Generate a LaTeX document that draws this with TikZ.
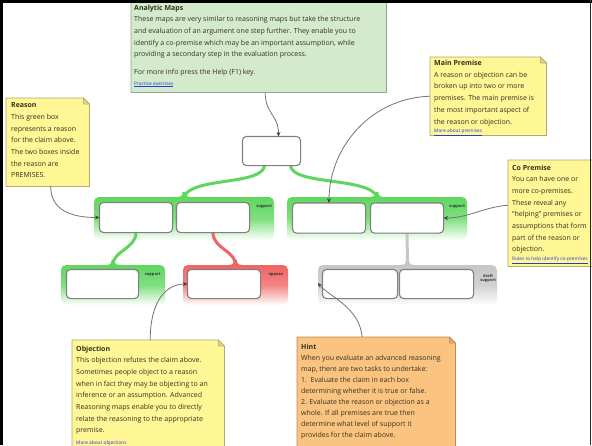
\documentclass[tikz,border=0pt]{standalone}
\usepackage{fontspec}
\setmainfont{Open Sans}
\usetikzlibrary{arrows.meta,calc}

\definecolor{notefill}{RGB}{255,246,150}
\definecolor{noteedge}{RGB}{178,168,112}
\definecolor{anafill}{RGB}{212,234,204}
\definecolor{anaedge}{RGB}{150,165,150}
\definecolor{hintfill}{RGB}{250,196,128}
\definecolor{hintedge}{RGB}{190,140,85}
\definecolor{notetxt}{RGB}{55,48,30}
\definecolor{linkblue}{RGB}{40,60,210}
\definecolor{grpgreen}{RGB}{95,215,95}
\definecolor{grpred}{RGB}{240,100,100}
\definecolor{grpgray}{RGB}{198,198,198}
\definecolor{boxedge}{RGB}{128,128,128}
\definecolor{ptr}{RGB}{115,115,115}
\definecolor{tipcol}{RGB}{64,64,64}

\newcommand\lnk[1]{{\fontsize{4.8}{6}\selectfont\color{linkblue}\underline{#1}}}

% sticky note outline with a folded top-right corner, drawn round a node
\newcommand\stickynote[3]{%
  \filldraw[fill=#2, draw=#3, line width=0.7pt]
    (#1.north west) -- ([xshift=-6pt]#1.north east) -- ([yshift=-6pt]#1.north east)
    -- (#1.south east) -- (#1.south west) -- cycle;
  \filldraw[fill=#3!45!#2, draw=#3, line width=0.5pt, line join=round]
    ([xshift=-6pt]#1.north east) -- ([xshift=-6pt,yshift=-6pt]#1.north east)
    -- ([yshift=-6pt]#1.north east) -- cycle;
}

\begin{document}
\begin{tikzpicture}[x=1pt,y=-1pt,
  premise/.style={draw=boxedge, fill=white, line width=1.1pt, rounded corners=4pt,
    inner sep=0pt, minimum height=29pt, minimum width=#1},
  premise/.default=72pt,
  group/.style={inner sep=0pt, rounded corners=5pt, top color=#1,
    bottom color=white, middle color=#1!80!white},
  notebody/.style={anchor=north west, inner sep=0pt},
  notetext/.style={anchor=north west, inner sep=0pt, align=left, text=notetxt,
    font=\fontsize{7}{11.7}\selectfont},
  tag/.style={inner sep=0pt, align=center, text=black!80,
    font=\fontsize{4}{4.6}\selectfont\bfseries},
  stem/.style={line width=3pt, draw=#1},
  pointer/.style={draw=ptr, line width=0.8pt,
    -{Stealth[length=4.5pt,width=4pt,color=tipcol]}},
  flare/.pic={\fill (-6,0) .. controls (-2.5,0) and (-1.5,-1.5) .. (-1.5,-5)
    -- (1.5,-5) .. controls (1.5,-1.5) and (2.5,0) .. (6,0) -- cycle;},
]
\useasboundingbox (0,0) rectangle (592,445);
\clip (0,0) rectangle (592,445);
\fill[white] (0,0) rectangle (592,445);

% ---- argument groups ----
\node[group=grpgreen, minimum width=180pt, minimum height=43pt] (grpL) at (184,218.5) {};
\node[group=grpgreen, minimum width=180pt, minimum height=43pt] (grpR) at (377,218.5) {};
\node[group=grpgreen, minimum width=104pt, minimum height=40pt] (grpS) at (113,285) {};
\node[group=grpred,   minimum width=105pt, minimum height=40pt] (grpO) at (235.5,285) {};
\node[group=grpgray,  minimum width=179pt, minimum height=40pt] (grpD) at (407.5,285) {};

% ---- claim and premises ----
\node[premise=57pt, minimum height=28pt] (claim) at (271.5,151) {};
\node[premise] (A) at (136,217.5) {};
\node[premise] (B) at (213,217.5) {};
\node[premise] (C) at (329,218) {};
\node[premise] (D) at (407,218) {};
\node[premise=71pt, minimum height=28pt] (E) at (102.5,284) {};
\node[premise, minimum height=28pt] (F) at (224,284) {};
\node[premise=74pt, minimum height=28pt] (G) at (360,284) {};
\node[premise=73pt, minimum height=28pt] (H) at (436.5,284) {};

% ---- thick links between claims and groups ----
\draw[stem=grpgreen] ($(claim.south)+(-7,0)$) .. controls +(-2,20) and +(8,-20) .. (grpL.north);
\draw[stem=grpgreen] ($(claim.south)+(19,0)$) .. controls +(2,20) and +(-8,-20) .. (grpR.north);
\draw[stem=grpgreen] (A.south) .. controls +(0,16) and +(0,-14) .. (grpS.north);
\draw[stem=grpred] (B.south) .. controls +(0,16) and +(0,-14) .. (grpO.north);
\draw[stem=grpgray] (D.south) -- (grpD.north);
\pic[color=grpgreen] at (grpL.north) {flare};
\pic[color=grpgreen] at (grpR.north) {flare};
\pic[color=grpgreen] at (grpS.north) {flare};
\pic[color=grpred] at (grpO.north) {flare};
\pic[color=grpgray] at (grpD.north) {flare};

% redraw boxes over the stems
\foreach \b in {claim,A,B,C,D,E,F,G,H} {
  \draw[boxedge, line width=1.1pt, rounded corners=4pt, fill=white]
    (\b.north west) rectangle (\b.south east);
}

% ---- group tags ----
\node[tag] (tL) at ($(grpL.north east)+(-10,10)$) {support};
\node[tag] (tR) at ($(grpR.north east)+(-10,10)$) {support};
\node[tag] (tS) at ($(grpS.north east)+(-12.5,10)$) {support};
\node[tag] (tO) at ($(grpO.north east)+(-12.5,10)$) {oppose};
\node[tag] (tD) at ($(grpD.north east)+(-9,13.5)$) {draft\\support};

% ---- notes ----
\node[notebody, minimum width=255pt, minimum height=100pt] (nAnalytic) at (131,-8) {};
\stickynote{nAnalytic}{anafill}{anaedge}
\node[notetext] (tAnalytic) at (134,4.5) {\textbf{Analytic Maps}\\
These maps are very similar to reasoning maps but take the structure\\
and evaluation of an argument one step further. They enable you to\\
identify a co-premise which may be an important assumption, while\\
providing a secondary step in the evaluation process.\\[6pt]
For more info press the Help (F1) key.\\[-1pt]
\lnk{Practice exercises}};

\node[notebody, minimum width=83pt, minimum height=88pt] (nReason) at (6,98) {};
\stickynote{nReason}{notefill}{noteedge}
\node[notetext] (tReason) at (11,102.5) {\textbf{Reason}\\
This green box\\represents a reason\\for the claim above.\\The two boxes inside\\
the reason are\\PREMISES.};

\node[notebody, minimum width=116pt, minimum height=78pt] (nMain) at (430,57) {};
\stickynote{nMain}{notefill}{noteedge}
\node[notetext] (tMain) at (434,60) {\textbf{Main Premise}\\
A reason or objection can be\\broken up into two or more\\premises. The main premise is\\
the most important aspect of\\the reason or objection.\\[-3.5pt]
\lnk{More about premises}};

\node[notebody, minimum width=92pt, minimum height=106pt] (nCo) at (508,160) {};
\stickynote{nCo}{notefill}{noteedge}
\node[notetext] (tCo) at (512,164.5) {\textbf{Co Premise}\\
You can have one or\\more co-premises.\\These reveal any\\“helping” premises or\\
assumptions that form\\part of the reason or\\objection.\\[-3pt]
\lnk{Rules to help identify co-premises}};

\node[notebody, minimum width=152pt, minimum height=120pt] (nObj) at (72,340) {};
\stickynote{nObj}{notefill}{noteedge}
\node[notetext] (tObj) at (76,345.5) {\textbf{Objection}\\
This objection refutes the claim above.\\Sometimes people object to a reason\\
when in fact they may be objecting to an\\inference or an assumption. Advanced\\
Reasoning maps enable you to directly\\relate the reasoning to the appropriate\\
premise.\\
\lnk{More about objections}};

\node[notebody, minimum width=158pt, minimum height=120pt] (nHint) at (297,337) {};
\stickynote{nHint}{hintfill}{hintedge}
\node[notetext, font=\fontsize{7}{11}\selectfont] (tHint) at (301,343.5) {\textbf{Hint}\\
When you evaluate an advanced reasoning\\map, there are two tasks to undertake:\\
1.~~Evaluate the claim in each box\\determining whether it is true or false.\\
2. Evaluate the reason or objection as a\\whole. If all premises are true then\\
determine what level of support it\\provides for the claim above.};

% ---- pointers from notes ----
\draw[pointer] ($(nAnalytic.south)+(6.5,0)$) .. controls +(0,22) and +(0,-22) .. ($(claim.north)+(7,0)$);
\draw[pointer] ($(nReason.south)+(3,0)$) .. controls +(0,24) and +(-28,0) .. (A.west);
\draw[pointer] (nMain.west) .. controls +(-60,2) and +(0,-55) .. (C.north);
\draw[pointer] ($(nCo.west)+(0,-8)$) .. controls +(-25,2) and +(25,0) .. (D.east);
\draw[pointer] ($(nObj.north)+(2,0)$) .. controls +(0,-38) and +(-22,0) .. (F.west);
\draw[pointer] ($(nHint.north)+(-14,0)$) .. controls +(-3,-30) and +(12,14) .. ($(grpD.west)+(0,-2)$);

% ---- window frame ----
\draw[black, line width=3pt] (0,1.5) -- (592,1.5);
\draw[black, line width=2.5pt] (1.25,0) -- (1.25,445);
\draw[black!85, line width=1pt] (590.5,0) -- (590.5,445);
\end{tikzpicture}
\end{document}
